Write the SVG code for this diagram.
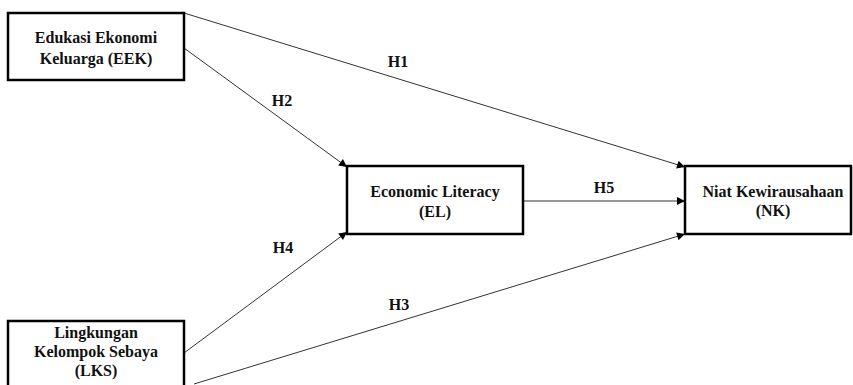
<svg xmlns="http://www.w3.org/2000/svg" width="853" height="385" viewBox="0 0 853 385">
<style>
.box{fill:#fff;stroke:#000;stroke-width:2.5}
.c{stroke:#333;stroke-width:1;fill:none}
</style>
<defs>
<marker id="ah" viewBox="0 0 10 10" refX="10" refY="5" markerWidth="10" markerHeight="8" markerUnits="userSpaceOnUse" orient="auto">
<path d="M0,0 L10,5 L0,10 z" fill="#000"/>
</marker>
</defs>
<rect width="853" height="385" fill="#fff"/>
<g id="connectors">
<line class="c" x1="184" y1="13" x2="685" y2="167" marker-end="url(#ah)"/>
<line class="c" x1="184" y1="48" x2="347" y2="167" marker-end="url(#ah)"/>
<line class="c" x1="184" y1="353" x2="347" y2="232" marker-end="url(#ah)"/>
<line class="c" x1="194" y1="384" x2="685" y2="234" marker-end="url(#ah)"/>
<line class="c" x1="523" y1="201" x2="685" y2="201" marker-end="url(#ah)"/>
<g font-family="Liberation Serif, Times New Roman, DejaVu Serif, serif" font-weight="bold" font-size="16" fill="#111" text-anchor="middle">
<text x="398" y="67">H1</text>
<text x="282" y="106">H2</text>
<text x="399" y="310">H3</text>
<text x="283" y="253">H4</text>
<text x="604" y="193">H5</text>
</g>
</g>
<g font-family="Liberation Serif, Times New Roman, DejaVu Serif, serif" font-weight="bold" font-size="16" fill="#111" text-anchor="middle">
<g id="EEK">
<rect class="box" x="8" y="13" width="176" height="67"/>
<text x="96" y="43">Edukasi Ekonomi</text>
<text x="96" y="64">Keluarga (EEK)</text>
</g>
<g id="EL">
<rect class="box" x="347" y="166" width="176" height="68"/>
<text x="435" y="197">Economic Literacy</text>
<text x="435" y="217">(EL)</text>
</g>
<g id="NK">
<rect class="box" x="685" y="166" width="166" height="68"/>
<text x="773" y="197">Niat Kewirausahaan</text>
<text x="773" y="216">(NK)</text>
</g>
<g id="LKS">
<rect class="box" x="8" y="321" width="176" height="80"/>
<text x="96" y="338">Lingkungan</text>
<text x="96" y="357">Kelompok Sebaya</text>
<text x="96" y="376">(LKS)</text>
</g>
</g>
</svg>
